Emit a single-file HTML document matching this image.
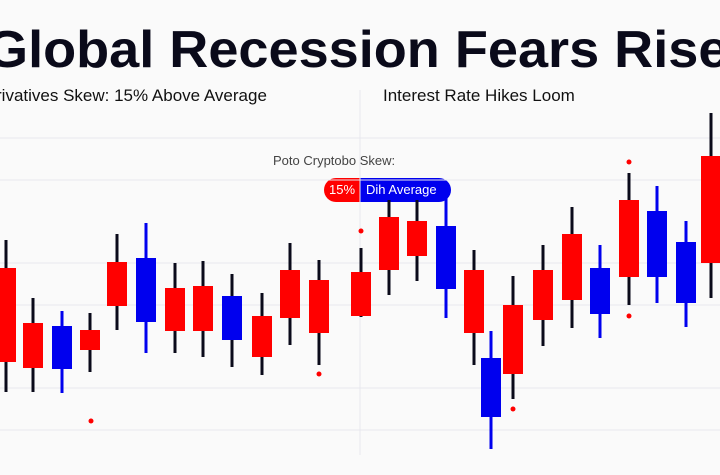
<!DOCTYPE html><html><head><style>
body{margin:0;width:720px;height:475px;overflow:hidden;background:#fafafa;font-family:"Liberation Sans",sans-serif;position:relative}
.t{position:absolute;white-space:nowrap}
</style></head><body>
<div class="t" style="left:-14px;top:20px;font-size:52px;font-weight:bold;color:#0a0a1a;letter-spacing:0;transform:scaleX(1.04);transform-origin:0 0">Global Recession Fears Rise</div>
<div class="t" style="left:-4px;top:86px;font-size:17px;color:#111;letter-spacing:0">rivatives Skew: 15% Above Average</div>
<div class="t" style="left:383px;top:86px;font-size:17px;color:#111;letter-spacing:0">Interest Rate Hikes Loom</div>
<div class="t" style="left:273px;top:153px;font-size:13px;color:#444">Poto Cryptobo Skew:</div>
<div class="t" style="left:324px;top:178px;width:127px;height:24px;border-radius:12px;overflow:hidden;font-size:13px;color:#fff;line-height:24px">
<span style="position:absolute;left:0;width:36px;height:24px;background:#f00;text-align:center">15%</span>
<span style="position:absolute;left:36px;width:91px;height:24px;background:#0000ee;padding-left:6px;box-sizing:border-box">Dih Average</span></div>
<svg width="720" height="475" style="position:absolute;left:0;top:0">
<g stroke="#e8e8ee" stroke-width="1"><line x1="0" y1="138" x2="720" y2="138"/><line x1="0" y1="180" x2="720" y2="180"/><line x1="0" y1="263" x2="720" y2="263"/><line x1="0" y1="305" x2="720" y2="305"/><line x1="0" y1="388" x2="720" y2="388"/><line x1="0" y1="430" x2="720" y2="430"/><line x1="360" y1="90" x2="360" y2="455"/></g>
<g id="c"></g>
<circle cx="91" cy="421" r="2.5" fill="#f00"/><circle cx="319" cy="374" r="2.5" fill="#f00"/><circle cx="361" cy="231" r="2.5" fill="#f00"/><circle cx="513" cy="409" r="2.5" fill="#f00"/><circle cx="629" cy="162" r="2.5" fill="#f00"/><circle cx="629" cy="316" r="2.5" fill="#f00"/>
</svg>
<script>
var d=[[6,268,362,240,392,'r','k'],[33,323,368,298,392,'r','k'],[62,326,369,311,393,'b','b'],[90,330,350,313,372,'r','k'],[117,262,306,234,330,'r','k'],[146,258,322,223,353,'b','b'],[175,288,331,263,353,'r','k'],[203,286,331,261,357,'r','k'],[232,296,340,274,367,'b','k'],[262,316,357,293,375,'r','k'],[290,270,318,243,345,'r','k'],[319,280,333,260,365,'r','k'],[361,272,316,248,317,'r','k'],[389,217,270,200,295,'r','k'],[417,221,256,200,281,'r','k'],[446,226,289,190,318,'b','b'],[474,270,333,250,365,'r','k'],[491,358,417,331,449,'b','b'],[513,305,374,276,399,'r','k'],[543,270,320,245,346,'r','k'],[572,234,300,207,328,'r','k'],[600,268,314,245,338,'b','b'],[629,200,277,173,305,'r','k'],[657,211,277,186,303,'b','b'],[686,242,303,221,327,'b','b'],[711,156,263,113,298,'r','k']];
var C={r:'#ff0000',b:'#0000ee',k:'#0a0a1a'},s='';
d.forEach(function(c){s+='<line x1="'+c[0]+'" x2="'+c[0]+'" y1="'+c[3]+'" y2="'+c[4]+'" stroke="'+C[c[6]]+'" stroke-width="3"/>';s+='<rect x="'+(c[0]-10)+'" y="'+c[1]+'" width="20" height="'+(c[2]-c[1])+'" fill="'+C[c[5]]+'"/>';});
document.getElementById('c').innerHTML=s;
</script>
</body></html>
